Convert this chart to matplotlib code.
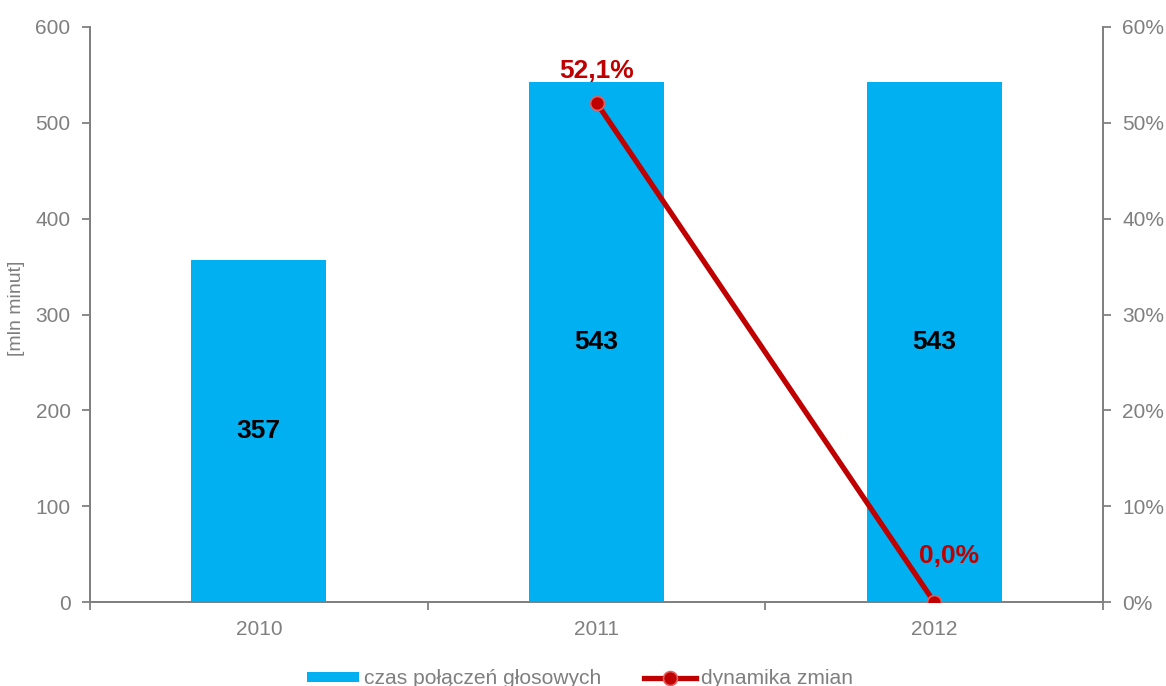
import matplotlib
matplotlib.use("Agg")
import matplotlib.pyplot as plt
import numpy as np
from matplotlib.ticker import FuncFormatter, FixedLocator

plt.rcParams['font.family'] = ['Liberation Sans', 'DejaVu Sans']

years = ['2010', '2011', '2012']
minutes = [357, 543, 543]
dynamics = [np.nan, 52.1, 0.0]
dyn_labels = ['', '52,1%', '0,0%']

BAR = '#00B0F0'
RED = '#C00000'
GREY = '#808080'
TXT = '#7F7F7F'

fig = plt.figure(figsize=(11.66, 6.86), dpi=100)
ax = fig.add_axes([90/1166, 1-602/686, (1103-90)/1166, (602-27)/686])
ax2 = ax.twinx()

x = np.arange(len(years))
bars = ax.bar(x, minutes, width=0.4, color=BAR, zorder=2, label='czas połączeń głosowych')
for xi, v in zip(x, minutes):
    ax.text(xi, v/2, f'{v}', ha='center', va='center', fontsize=19, fontweight='bold', color='black', zorder=5)

ax.set_xlim(-0.5, 2.5)
ax.set_ylim(0, 600)
ax.set_yticks(np.arange(0, 601, 100))
ax.set_xticks(x)
ax.set_xticklabels(years)
ax.xaxis.set_minor_locator(FixedLocator([-0.5, 0.5, 1.5, 2.5]))
ax.tick_params(axis='x', which='major', length=0, labelsize=15, labelcolor=TXT, pad=13)
ax.tick_params(axis='x', which='minor', length=6, color=GREY, width=1.3)
ax.tick_params(axis='y', length=6, color=GREY, width=1.3, labelsize=15, labelcolor=TXT, pad=8)
ax.set_ylabel('[mln minut]', fontsize=14, color=TXT, labelpad=12)
ax.yaxis.set_label_coords(-0.064, 0.51)

line, = ax2.plot(x, dynamics, color=RED, lw=3.8, marker='o', markersize=10,
                 markerfacecolor=RED, markeredgecolor='#E06060', markeredgewidth=1.2,
                 zorder=4, label='dynamika zmian')
ax2.set_ylim(0, 60)
ax2.set_yticks(np.arange(0, 61, 10))
ax2.yaxis.set_major_formatter(FuncFormatter(lambda v, p: f'{v:.0f}%'))
ax2.tick_params(axis='y', length=6, color=GREY, width=1.3, labelsize=15, labelcolor=TXT, pad=8)

offsets = [(0, 0), (0, 23), (11, 33)]
for xi, v, lab, off in zip(x, dynamics, dyn_labels, offsets):
    if lab:
        ax2.annotate(lab, (xi, v), xytext=off, textcoords='offset points', ha='center', va='center',
                     fontsize=19, fontweight='bold', color=RED, zorder=6,
                     annotation_clip=False)

for a in (ax, ax2):
    a.spines['top'].set_visible(False)
    for s in ('left', 'right', 'bottom'):
        a.spines[s].set_color(GREY)
        a.spines[s].set_linewidth(1.3)
ax.set_zorder(ax2.get_zorder() - 1)
ax.patch.set_visible(False)
ax2.set_zorder(ax.get_zorder() + 1)

fig.legend([bars, line], ['czas połączeń głosowych', 'dynamika zmian'],
           loc='center', bbox_to_anchor=(580/1166, 1-679/686), ncol=2, frameon=False,
           fontsize=15.1, labelcolor=TXT, handlelength=2.5, handletextpad=0.25,
           columnspacing=2.0, handleheight=0.4, borderpad=0)

fig.savefig('out.png', dpi=100)
